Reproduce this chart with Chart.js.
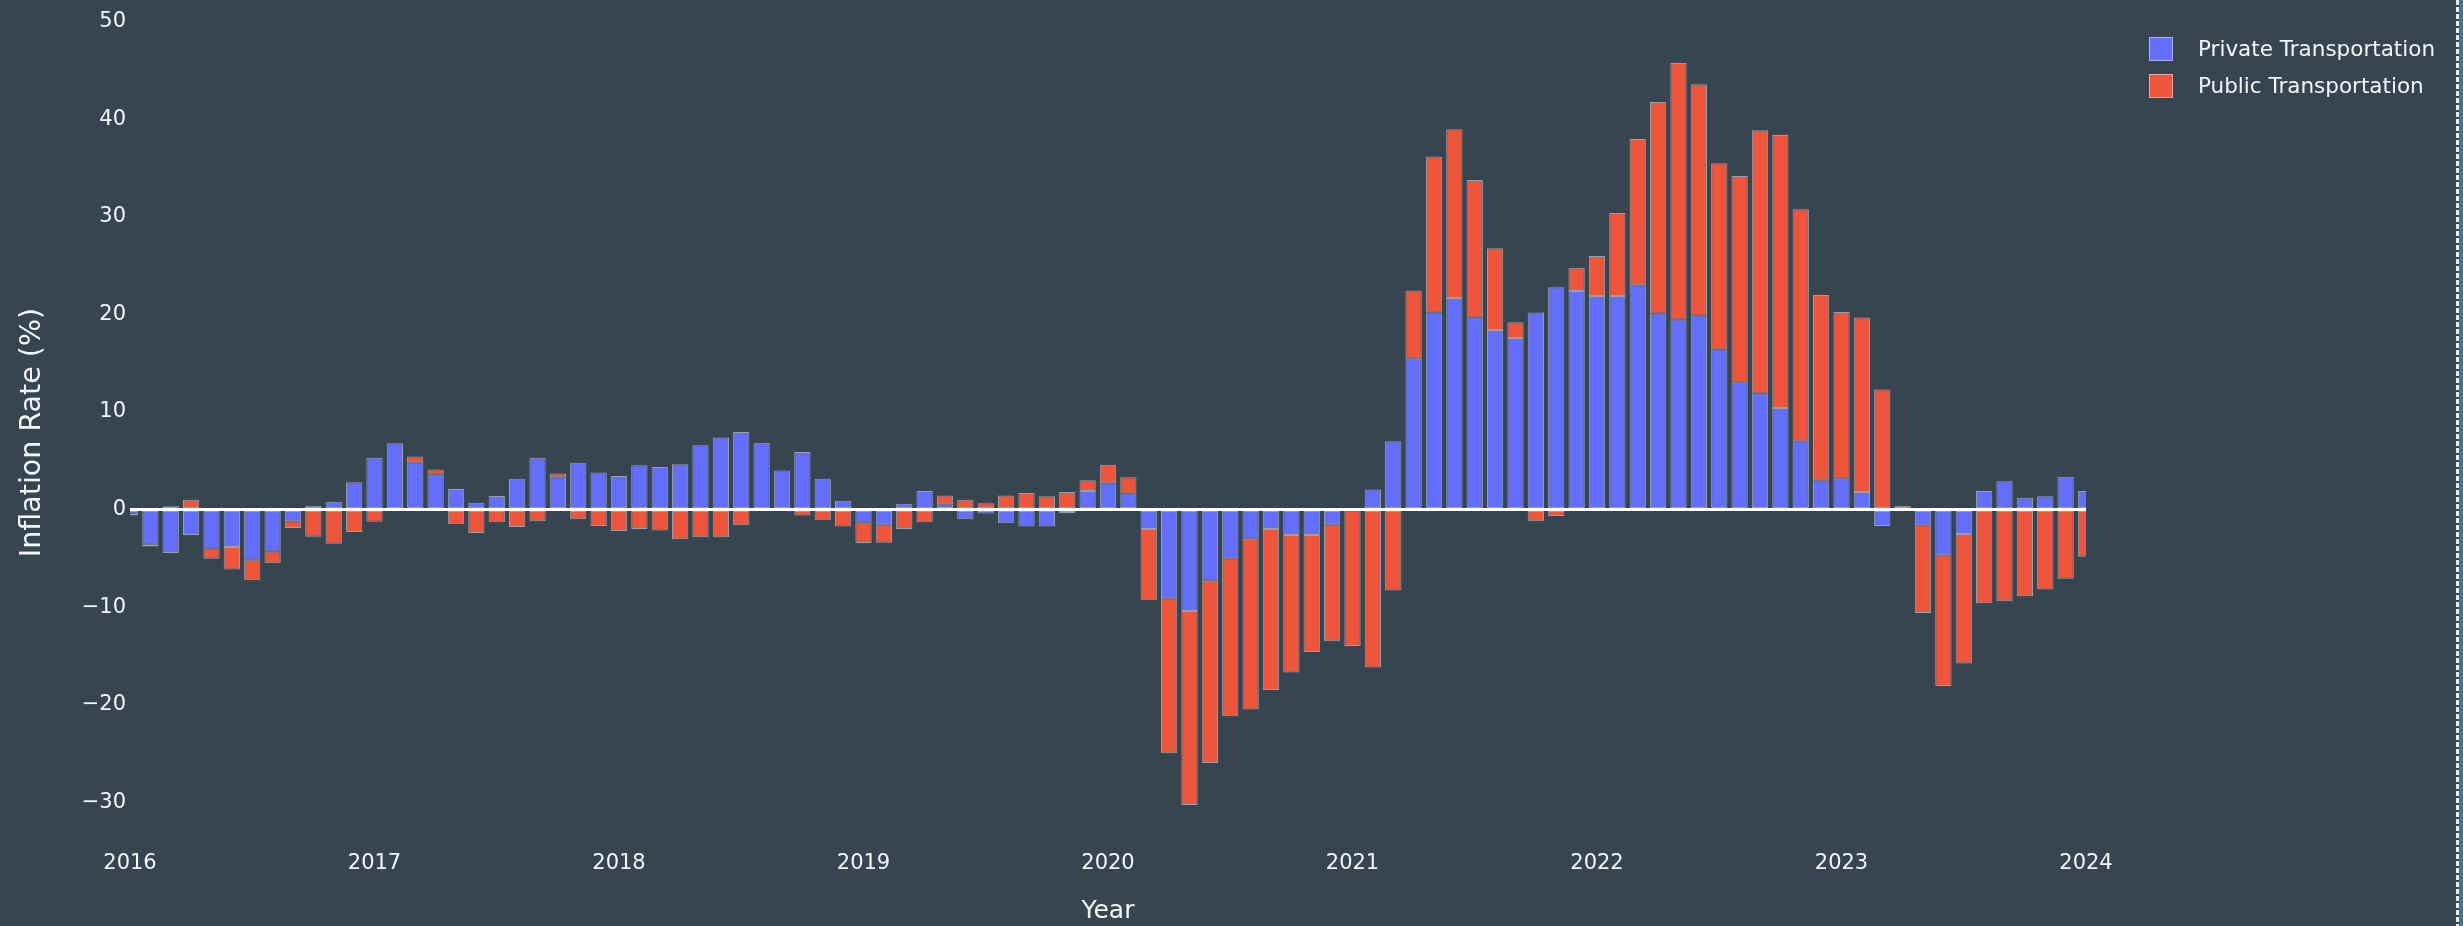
<!DOCTYPE html>
<html>
<head>
<meta charset="utf-8">
<script src="https://cdn.jsdelivr.net/npm/chart.js@4"></script>
<style>
  html, body { margin: 0; padding: 0; background: #36454f; overflow: hidden; }
  #wrap { position: relative; width: 2463px; height: 926px; }
  #edge { position: absolute; left: 2456px; top: 0; width: 3px; height: 926px;
    background: repeating-linear-gradient(to bottom, #e8eef2 0 5px, transparent 5px 7px); }
  #edge2 { position: absolute; left: 2459px; top: 0; width: 4px; height: 926px; background: #4a7383; }
</style>
</head>
<body>
<div id="wrap">
  <canvas id="c"></canvas>
  <div id="edge"></div>
  <div id="edge2"></div>
</div>
<script>
/* ---- data, monthly 2016-01 .. 2024-01 ---- */
const years = ['2016', '2017', '2018', '2019', '2020', '2021', '2022', '2023', '2024'];

const privateTransport = [
  -0.4, -3.6, -4.45, -2.6, -4.0, -3.85, -5.15, -4.3, -1.2, 0.4, 0.8, 2.8,        // 2016
  5.3, 6.8, 4.85, 3.6, 2.1, 0.7, 1.4, 3.15, 5.3, 3.3, 4.8, 3.8,                  // 2017
  3.45, 4.55, 4.35, 4.65, 6.6, 7.4, 7.95, 6.85, 4.0, 5.9, 3.15, 0.9,             // 2018
  -1.33, -1.5, 0.6, 1.9, 0.55, -1.0, -0.4, -1.4, -1.75, -1.75, -0.35, 1.9,       // 2019
  2.7, 1.65, -2.0, -9.1, -10.4, -7.3, -5.0, -3.0, -2.0, -2.6, -2.6, -1.5,        // 2020
  -0.1, 2.06, 7.0, 15.45, 20.2, 21.7, 19.7, 18.4, 17.6, 20.2, 22.8, 22.4,        // 2021
  21.9, 21.9, 23.0, 20.1, 19.5, 19.9, 16.4, 13.0, 11.9, 10.4, 7.0, 3.0,          // 2022
  3.15, 1.8, -1.7, 0, -1.6, -4.7, -2.5, 1.9, 2.9, 1.2, 1.35, 3.35,               // 2023
  1.9                                                                            // 2024
];

const publicTransport = [
  -0.2, -0.2, 0.35, 1.0, -1.05, -2.3, -2.1, -1.2, -0.7, -2.8, -3.5, -2.3,        // 2016
  -1.25, 0, 0.6, 0.5, -1.5, -2.4, -1.3, -1.8, -1.2, 0.4, -1.0, -1.7,             // 2017
  -2.2, -2.0, -2.15, -3.05, -2.85, -2.85, -1.6, 0, -0.1, -0.6, -1.1, -1.75,      // 2018
  -2.1, -1.9, -2.0, -1.3, 0.9, 1.0, 0.65, 1.45, 1.7, 1.35, 1.8, 1.1,             // 2019
  1.9, 1.65, -7.3, -15.9, -19.9, -18.7, -16.2, -17.5, -16.5, -14.1, -12.0, -12.0, // 2020
  -13.9, -16.2, -8.3, 7.0, 16.0, 17.3, 14.1, 8.4, 1.6, -1.2, -0.65, 2.4,         // 2021
  4.1, 8.5, 15.0, 21.7, 26.3, 23.7, 19.1, 21.2, 27.0, 28.0, 23.8, 19.0,          // 2022
  17.1, 17.9, 12.3, 0.4, -9.0, -13.4, -13.3, -9.6, -9.4, -8.9, -8.2, -7.1,       // 2023
  -4.85                                                                          // 2024
];

const months = [];
years.forEach((y, i) => {
  const n = i === years.length - 1 ? 1 : 12;
  for (let m = 1; m <= n; m++) months.push(y + '-' + String(m).padStart(2, '0'));
});

const FONT = 'Verdana, "DejaVu Sans", sans-serif';
const TEXT = '#f2f5fa';
const OUTLINE = 'rgba(229,236,246,0.55)';

// legend drawn at the top right, like the original
const legendBox = {
  id: 'legendBox',
  afterDraw(chart) {
    const ctx = chart.ctx;
    ctx.save();
    chart.data.datasets.forEach((ds, i) => {
      const y = 37 + i * 37;
      ctx.fillStyle = ds.backgroundColor;
      ctx.fillRect(2149, y, 24, 24);
      ctx.strokeStyle = OUTLINE;
      ctx.lineWidth = 1;
      ctx.strokeRect(2149.5, y + 0.5, 23, 23);
      ctx.fillStyle = TEXT;
      ctx.font = '21.5px ' + FONT;
      ctx.textBaseline = 'middle';
      ctx.fillText(ds.label, 2198, y + 13);
    });
    ctx.restore();
  }
};

new Chart(document.getElementById('c'), {
  type: 'bar',
  data: {
    labels: months,
    datasets: [
      { label: 'Private Transportation', data: privateTransport, backgroundColor: '#636efa' },
      { label: 'Public Transportation', data: publicTransport, backgroundColor: '#ef553b' }
    ].map(d => Object.assign({
      borderColor: OUTLINE, borderWidth: 1, borderSkipped: false,
      categoryPercentage: 1, barPercentage: 0.8, clip: 0
    }, d))
  },
  options: {
    responsive: true,
    maintainAspectRatio: false,
    animation: false,
    devicePixelRatio: 1,
    layout: { padding: { left: 0, right: 377, top: 20, bottom: 0 } },
    plugins: { legend: { display: false }, tooltip: { enabled: false } },
    scales: {
      x: {
        stacked: true,
        offset: false,
        grid: { display: false, drawTicks: false },
        border: { display: false },
        ticks: {
          color: TEXT, font: { family: FONT, size: 21 }, padding: 6,
          autoSkip: false, maxRotation: 0, minRotation: 0,
          callback(v) {
            const l = this.getLabelForValue(v);
            return l.endsWith('-01') ? l.slice(0, 4) : '';
          }
        },
        title: { display: true, text: 'Year', color: TEXT, font: { family: FONT, size: 25 }, padding: { top: 0, bottom: 0 } },
        afterFit(s) { s.height = 81; }
      },
      y: {
        stacked: true,
        min: -34.4,
        max: 50.2,
        z: 1,
        grid: {
          drawTicks: false,
          lineWidth: 3,
          color: c => (c.tick && c.tick.value === 0 ? '#ffffff' : 'transparent')
        },
        border: { display: false },
        ticks: {
          stepSize: 10, includeBounds: false, color: TEXT, font: { family: FONT, size: 21 }, padding: 4,
          callback: v => (v < 0 ? '\u2212' + Math.abs(v) : String(v))
        },
        title: { display: true, text: 'Inflation Rate (%)', color: TEXT, font: { family: FONT, size: 28.5 }, padding: { top: 15, bottom: 0 } },
        afterFit(s) { s.width = 130; }
      }
    }
  },
  plugins: [legendBox]
});
</script>
</body>
</html>
